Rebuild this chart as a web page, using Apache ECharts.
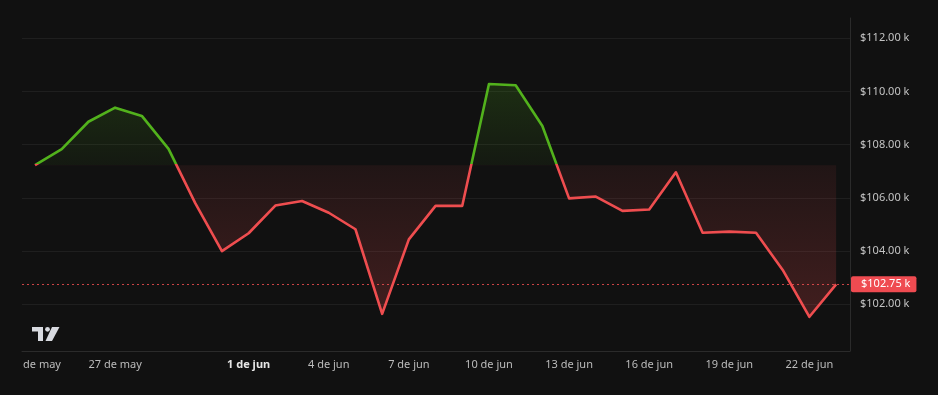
<!DOCTYPE html>
<html><head><meta charset="utf-8">
<script src="https://cdn.jsdelivr.net/npm/echarts@6/dist/echarts.min.js"></script>
<style>html,body{margin:0;padding:0;background:#111111;}#c{width:938px;height:395px;}</style>
</head><body><div id="c"></div>
<script>
// Daily index: 0 = 24 de may ... 30 = 23 de jun
const dayIndex = [0,1,2,3,4,5,6,7,8,9,10,11,12,13,14,15,16,17,18,19,20,21,22,23,24,25,26,27,28,29,30];
// Price in thousands of dollars
const prices = [107.23,107.83,108.86,109.39,109.08,107.84,105.80,104.00,104.67,105.71,105.88,105.44,104.82,101.64,104.44,105.70,105.70,110.28,110.23,108.70,105.98,106.05,105.51,105.56,106.96,104.69,104.73,104.69,103.29,101.53,102.75];
const dateLabelIdx = [0,3,8,11,14,17,20,23,26,29];
const dateLabels = ['de may','27 de may','1 de jun','4 de jun','7 de jun','10 de jun','13 de jun','16 de jun','19 de jun','22 de jun'];
const boldLabel = '1 de jun';
const priceTicks = [102,104,106,108,110,112];
const lastPrice = 102.75;
const baseline = prices[0];

const GREEN = '#52b21c', RED = '#ef4d4f';
const maxP = Math.max(...prices), minP = Math.min(...prices);
const b = (maxP - baseline) / (maxP - minP);

const chart = echarts.init(document.getElementById('c'), null, {renderer:'canvas'});
const fmtPrice = v => '$' + v.toFixed(2) + ' k';
chart.setOption({
  backgroundColor: '#111111',
  animation: false,
  textStyle: {fontFamily: 'Noto Sans'},
  grid: {left: 22, right: 88, top: 18, bottom: 44},
  xAxis: {
    type: 'value', min: -0.487, max: 30.52,
    splitLine: {show: false},
    axisTick: {show: false},
    axisLine: {show: true, onZero: false, lineStyle: {color: '#2b2b2b', width: 1}},
    axisLabel: {
      customValues: dateLabelIdx,
      margin: 8, fontSize: 11, color: '#bcbcbc', fontFamily: 'Noto Sans',
      formatter: v => {
        const k = dateLabelIdx.indexOf(Math.round(v));
        if (k < 0) return '';
        const t = dateLabels[k];
        if (t === boldLabel) return '{b|' + t + '}';
        if (k === 0) return '{s|' + t + '}';
        return t;
      },
      rich: {
        b: {fontWeight: 'bold', color: '#e6e6e6', fontSize: 11, fontFamily: 'Noto Sans'},
        s: {padding: [0,0,0,14], color: '#bcbcbc', fontSize: 11, fontFamily: 'Noto Sans'}
      }
    }
  },
  yAxis: {
    type: 'value', position: 'right', min: 100.244, max: 112.76,
    axisLine: {show: true, onZero: false, lineStyle: {color: '#2b2b2b', width: 1}},
    axisTick: {show: false, customValues: priceTicks},
    splitLine: {show: true, lineStyle: {color: '#1f1f1f', width: 1}},
    axisLabel: {customValues: priceTicks, margin: 10, fontSize: 11, color: '#c4c4c4', fontFamily: 'Noto Sans', formatter: fmtPrice}
  },
  graphic: [
    {type: 'rect', shape: {x: 32, y: 327, width: 11, height: 4.5}, style: {fill: '#d8dae0'}},
    {type: 'rect', shape: {x: 38, y: 327, width: 5, height: 14}, style: {fill: '#d8dae0'}},
    {type: 'circle', shape: {cx: 47.5, cy: 329.3, r: 2.4}, style: {fill: '#d8dae0'}},
    {type: 'polygon', shape: {points: [[52,327],[59.5,327],[52,341],[45.5,341]]}, style: {fill: '#d8dae0'}}
  ],
  series: [{
    type: 'line',
    data: dayIndex.map((d, i) => [d, prices[i]]),
    symbol: 'none',
    lineStyle: {width: 2.6, join: 'round', color: {type: 'linear', x: 0, y: 0, x2: 0, y2: 1, colorStops: [
      {offset: 0, color: GREEN}, {offset: b, color: GREEN},
      {offset: b, color: RED}, {offset: 1, color: RED}
    ]}},
    areaStyle: {
      origin: baseline,
      opacity: 1,
      color: {type: 'linear', x: 0, y: 0, x2: 0, y2: 1, colorStops: [
        {offset: 0, color: 'rgba(82,178,28,0.18)'},
        {offset: b, color: 'rgba(82,178,28,0.05)'},
        {offset: b, color: 'rgba(239,77,79,0.07)'},
        {offset: 1, color: 'rgba(239,77,79,0.22)'}
      ]}
    },
    markLine: {
      silent: true, symbol: 'none',
      lineStyle: {color: 'rgba(239,77,79,0.85)', type: [2,3], width: 1},
      label: {
        show: true, position: 'end', distance: 1,
        formatter: fmtPrice(lastPrice),
        backgroundColor: '#ef4b51', color: '#ffffff', fontSize: 11, fontFamily: 'Noto Sans',
        padding: [2, 6, 2, 10], borderRadius: 2, lineHeight: 12
      },
      data: [{yAxis: lastPrice}]
    }
  }]
});
</script></body></html>
